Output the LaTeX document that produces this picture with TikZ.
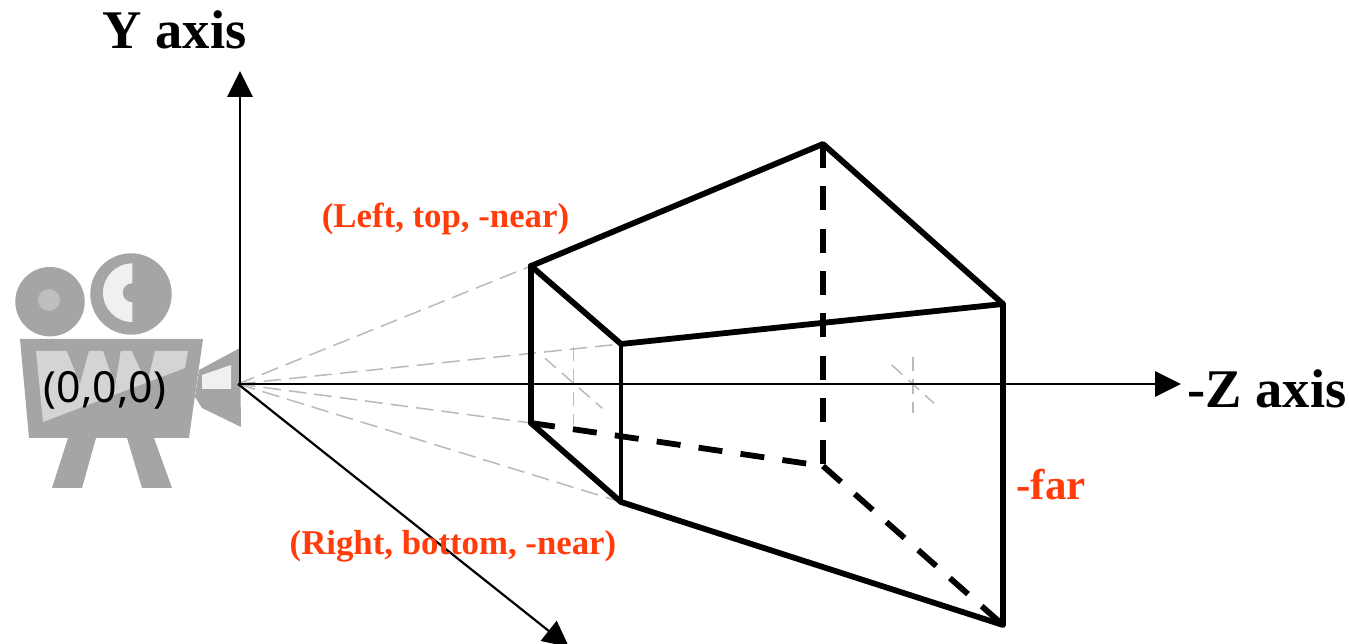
\documentclass[tikz,border=0pt]{standalone}
\usepackage{fontspec}
\setmainfont{Liberation Serif}
\newfontfamily\sansf{Noto Sans}
\usetikzlibrary{arrows.meta}
\definecolor{camgrey}{RGB}{165,165,165}
\definecolor{camlight}{RGB}{212,212,212}
\definecolor{camwhite}{RGB}{240,240,240}
\definecolor{dotgrey}{RGB}{190,190,190}
\definecolor{guide}{RGB}{185,185,185}
\definecolor{lab}{RGB}{255,60,10}
\tikzset{
 px/.style={x=0.02cm,y=-0.02cm},
 axisline/.style={line width=1.25pt,black,-{Triangle[length=14.8pt,width=14.4pt]}},
 frame/.style={line width=3.3pt,black,line cap=round,line join=round},
 hidden/.style={line width=3.3pt,black,dash pattern=on 13.7pt off 10.4pt},
 guideline/.style={line width=0.85pt,guide,dash pattern=on 10pt off 4.6pt},
 crossline/.style={line width=0.85pt,guide,dash pattern=on 8.2pt off 4.6pt},
 axislabel/.style={font=\fontsize{31}{33}\selectfont\bfseries,text=black,inner sep=0pt},
 redlabel/.style={font=\fontsize{19.8}{21}\selectfont\bfseries,text=lab,inner sep=0pt},
 farlabel/.style={font=\fontsize{24.5}{26}\selectfont\bfseries,text=lab,inner sep=0pt},
}
\begin{document}
\begin{tikzpicture}[px]
\useasboundingbox (0,0) rectangle (1349,644);
% camera
\fill[camgrey] (50,301.7) circle (34.7);
\fill[dotgrey] (49,300) circle (11);
\fill[camgrey] (131,294) circle (40.7);
\fill[camwhite] (132.3,322) arc (90:270:29.3) -- cycle;
\fill[camgrey] (132.3,292.7) circle (9.5);
\fill[camgrey] (20,339) -- (203,339) -- (189,438) -- (29,438) -- cycle;
\fill[camgrey] (68,438) -- (96,438) -- (82,488) -- (52,488) -- cycle;
\fill[camgrey] (127,438) -- (154,438) -- (172,488) -- (142,488) -- cycle;
\fill[camgrey] (199,370) -- (240,348) -- (241,427) -- (202,408) -- (195,397) -- cycle;
\fill[camwhite] (202,375) -- (231,365) -- (231,389) -- (202,389) -- cycle;
\fill[camlight] (36,351) -- (66.7,351) -- (80,384) -- (89,351) -- (103,351) -- (115,386) -- (120.7,351) -- (131.7,351) -- (147,384) -- (155,351) -- (188,351) -- (185,368) -- (43,422) -- cycle;
\node[font=\sansf\fontsize{24.4}{27}\selectfont,inner sep=0pt] (origintext) at (105,390) {(0,0,0)};
% key points
\coordinate (O) at (238,384);
\coordinate (Oy) at (240,384);
\coordinate (Ytip) at (240,71);
\coordinate (Ztip) at (1181,384);
\coordinate (Dtip) at (569,647);
\coordinate (nTL) at (531,266);
\coordinate (nTR) at (621,344);
\coordinate (nBL) at (531,423);
\coordinate (nBR) at (621,502);
\coordinate (fT) at (823,144);
\coordinate (fR) at (1003,304);
\coordinate (fB) at (1003,625);
\coordinate (fH) at (823,466);
% guides
\draw[guideline] (O) -- (nTL);
\draw[guideline] (O) -- (nTR);
\draw[guideline] (O) -- (nBL);
\draw[guideline] (O) -- (nBR);
\coordinate (a1) at (573.5,346.7); \coordinate (a2) at (573.5,425);
\coordinate (a3) at (545,358.3); \coordinate (a4) at (602.3,408.3);
\coordinate (b1) at (913,356.7); \coordinate (b2) at (913,413.5);
\coordinate (b3) at (891.7,365); \coordinate (b4) at (934,403.3);
\draw[crossline] (a1) -- (a2);
\draw[crossline] (a3) -- (a4);
\draw[crossline] (b1) -- (b2);
\draw[crossline] (b3) -- (b4);
% axes
\draw[axisline] (Oy) -- (Ytip);
\draw[axisline] (O) -- (Ztip);
\draw[axisline] (O) -- (Dtip);
% frustum
\draw[hidden] (fT) -- (fH);
\draw[hidden] (nBL) -- (fH);
\draw[hidden] (fH) -- (fB);
\draw[frame] (nTL) -- (fT) -- (fR) -- (fB) -- (nBR);
\draw[frame,line width=2.6pt] (nBR) -- (nTR);
\draw[frame] (nTR) -- (nTL);
\draw[frame] (nBL) -- (nBR);
\draw[frame,line width=3.6pt] (nTL) -- (nBL);
\draw[frame] (nTR) -- (fR);
% labels
\node[axislabel] (ylabel) at (174.5,30) {Y axis};
\node[axislabel] (zlabel) at (1267,389) {-Z axis};
\node[redlabel] (lt) at (445.5,219) {(Left, top, -near)};
\node[redlabel] (rb) at (453,546) {(Right, bottom, -near)};
\node[farlabel] (far) at (1051,485) {-far};
\end{tikzpicture}
\end{document}
